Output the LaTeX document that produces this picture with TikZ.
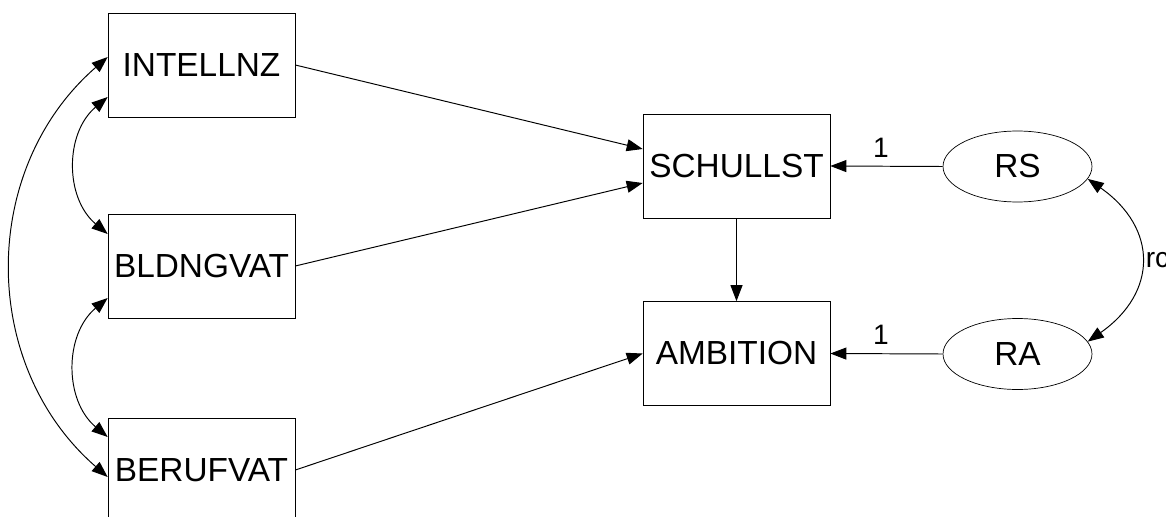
\documentclass[tikz,border=0pt]{standalone}
\usepackage{fontspec}
\setmainfont{Liberation Sans}
\usetikzlibrary{arrows.meta,shapes.geometric,calc}

\tikzset{%
  obs/.style={draw, rectangle, minimum width=3.74cm, minimum height=2.08cm,
    inner sep=0pt, font=\fontsize{19}{23}\selectfont},
  err/.style={draw, ellipse, minimum width=2.98cm, minimum height=1.42cm,
    inner sep=0pt, font=\fontsize{19}{23}\selectfont},
  coef/.style={font=\fontsize{16}{19}\selectfont},
  regr/.style={->, line width=0.55pt},
  cov/.style={<->, line width=0.55pt}
}

\begin{document}
\begin{tikzpicture}[x=0.02cm, y=0.02cm, >={Triangle[length=0.32cm, width=0.24cm]}]
    \useasboundingbox (0,0) rectangle (1166,-517);

    % exogenous variables
    \node[obs] (intell) at (201.5,-65) {INTELLNZ};
    \node[obs] (bldng)  at (201.5,-266) {BLDNGVAT};
    \node[obs] (beruf)  at (201.5,-470) {BERUFVAT};

    % endogenous variables and residuals
    \node[obs] (schul) at (736.5,-166) {SCHULLST};
    \node[obs] (ambi)  at (736.5,-353.5) {AMBITION};
    \node[err] (rs) at (1017.5,-166.5) {RS};
    \node[err] (ra) at (1017.5,-354) {RA};

    % regression paths
    \draw[regr] (intell.east) -- ($(schul.west)+(0,17)$);
    \draw[regr] (bldng.east) -- ($(schul.west)+(0,-17)$);
    \draw[regr] (beruf.east) -- (ambi.west);
    \draw[regr] (schul.south) -- (ambi.north);
    \draw[regr] (rs.west) -- node[coef, pos=0.55, above, inner sep=0.17cm] {1} (schul.east);
    \draw[regr] (ra.west) -- node[coef, pos=0.55, above, inner sep=0.17cm] {1} (ambi.east);

    % covariances
    \draw[cov] ($(intell.west)+(0,-32)$) to[out=220, in=140, looseness=1.05] ($(bldng.west)+(0,32)$);
    \draw[cov] ($(bldng.west)+(0,-32)$) to[out=220, in=140, looseness=1.05] ($(beruf.west)+(0,33)$);
    \draw[cov] ($(intell.west)+(0,8)$) to[out=221, in=139, looseness=1.04] ($(beruf.west)+(0,-7)$);
    \draw[cov] (rs.-10) to[out=-35, in=35, looseness=1.35]
      node[coef, right, inner sep=0.1cm] {rc} (ra.10);
\end{tikzpicture}
\end{document}
